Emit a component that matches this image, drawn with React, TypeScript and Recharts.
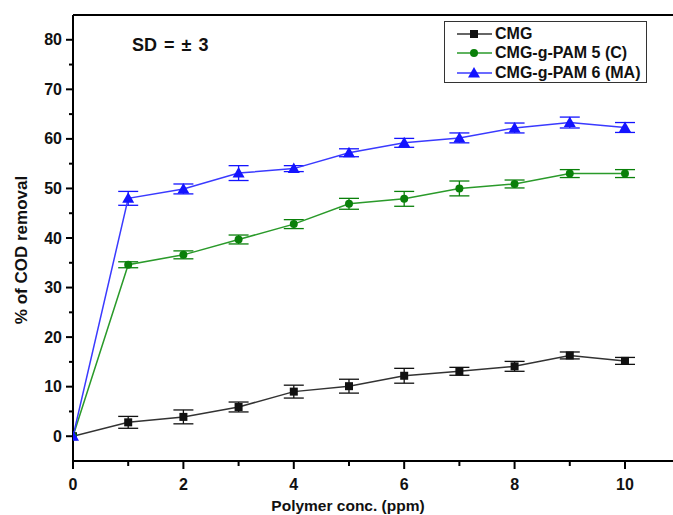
import {
  ErrorBar,
  Legend,
  Line,
  LineChart,
  ReferenceLine,
  XAxis,
  YAxis,
} from "recharts";

const conc = [0, 1, 2, 3, 4, 5, 6, 7, 8, 9, 10];
const cmg = [0, 2.8, 3.9, 5.9, 9.0, 10.1, 12.2, 13.1, 14.1, 16.3, 15.2];
const cmgErr = [0, 1.2, 1.4, 1.0, 1.3, 1.4, 1.5, 0.8, 1.0, 0.7, 0.7];
const pam5 = [0, 34.6, 36.6, 39.7, 42.8, 46.9, 47.9, 50.0, 50.9, 53.0, 53.0];
const pam5Err = [0, 0.6, 0.8, 0.9, 0.9, 1.1, 1.5, 1.5, 0.8, 0.8, 0.8];
const pam6 = [0, 48.0, 49.9, 53.1, 54.0, 57.2, 59.2, 60.2, 62.2, 63.3, 62.3];
const pam6Err = [0, 1.4, 1.0, 1.5, 0.6, 0.8, 0.9, 1.0, 1.0, 1.1, 1.0];

const xTicks = [0, 1, 2, 3, 4, 5, 6, 7, 8, 9, 10];
const yTicks = [0, 5, 10, 15, 20, 25, 30, 35, 40, 45, 50, 55, 60, 65, 70, 75, 80];

const seriesNames = ["CMG", "CMG-g-PAM 5 (C)", "CMG-g-PAM 6 (MA)"];

const data = conc.map((x, i) => ({
  x,
  cmg: cmg[i],
  cmgErr: cmgErr[i],
  pam5: pam5[i],
  pam5Err: pam5Err[i],
  pam6: pam6[i],
  pam6Err: pam6Err[i],
}));

const FONT = "'Liberation Sans', Arial, sans-serif";
const BLACK = "#111";
const GREEN = "#0a800a";
const BLUE = "#1414ff";
const lineColors = ["#333", "#2a9a2a", "#3a3aff"];

const Square = ({ cx, cy, color }: any) => (
  <rect x={cx - 4} y={cy - 4} width={8} height={8} fill={color} />
);
const Circle = ({ cx, cy, color }: any) => (
  <circle cx={cx} cy={cy} r={4} fill={color} />
);
const Triangle = ({ cx, cy, color }: any) => (
  <polygon
    points={`${cx},${cy - 6} ${cx - 6},${cy + 4.5} ${cx + 6},${cy + 4.5}`}
    fill={color}
  />
);

const markers = [Square, Circle, Triangle];
const colors = [BLACK, GREEN, BLUE];

const YTick = ({ x, y, payload }: any) => {
  const major = payload.value % 10 === 0;
  return (
    <g>
      <line x1={x} x2={x - (major ? 7 : 4)} y1={y} y2={y} stroke="#000" strokeWidth={2} />
      {major && (
        <text
          x={x - 11}
          y={y + 5.5}
          textAnchor="end"
          fontFamily={FONT}
          fontWeight="bold"
          fontSize={16}
          fill="#111"
        >
          {payload.value}
        </text>
      )}
    </g>
  );
};

const XTick = ({ x, y, payload }: any) => {
  const major = payload.value % 2 === 0;
  return (
    <g>
      <line x1={x} x2={x} y1={y} y2={y + (major ? 8 : 5)} stroke="#000" strokeWidth={2} />
      {major && (
        <text
          x={x}
          y={y + 29}
          textAnchor="middle"
          fontFamily={FONT}
          fontWeight="bold"
          fontSize={16}
          fill="#111"
        >
          {payload.value}
        </text>
      )}
    </g>
  );
};

const LegendBox = () => (
  <div
    style={{
      border: "1.5px solid #333",
      width: 203,
      height: 62,
      boxSizing: "border-box",
      paddingTop: 2,
      fontFamily: FONT,
      fontWeight: "bold",
      fontSize: 16,
      color: "#111",
      background: "#fff",
    }}
  >
    {seriesNames.map((name, i) => {
      const Marker = markers[i];
      return (
        <div key={name} style={{ display: "flex", alignItems: "center", height: 19.5, whiteSpace: "nowrap" }}>
          <svg width={38} height={14} style={{ marginLeft: 11, flexShrink: 0 }}>
            <line x1={1} x2={36} y1={7} y2={7} stroke={lineColors[i]} strokeWidth={1.5} />
            <Marker cx={18} cy={7} color={colors[i]} />
          </svg>
          <span style={{ marginLeft: 1 }}>{name}</span>
        </div>
      );
    })}
  </div>
);

export default function App() {
  const keys = ["cmg", "pam5", "pam6"];
  return (
    <div style={{ position: "absolute", left: 0, top: 0, width: 673, height: 515, background: "#fff" }}>
      <LineChart
        width={673}
        height={515}
        data={data}
        margin={{ top: 15, right: 0, left: 0, bottom: 0 }}
      >
        <XAxis
          dataKey="x"
          type="number"
          domain={[0, 10.87]}
          ticks={xTicks}
          allowDataOverflow
          height={54}
          tickSize={0}
          tickMargin={0}
          tickLine={false}
          stroke="#000"
          strokeWidth={2}
          tick={<XTick />}
          label={{
            content: ({ viewBox }: any) => (
              <text
                x={348}
                y={viewBox.y + 50}
                textAnchor="middle"
                fontFamily={FONT}
                fontWeight="bold"
                fontSize={15.5}
                fill="#111"
              >
                Polymer conc. (ppm)
              </text>
            ),
          }}
        />
        <YAxis
          type="number"
          domain={[-5, 85]}
          ticks={yTicks}
          allowDataOverflow
          width={73}
          tickSize={0}
          tickMargin={0}
          tickLine={false}
          stroke="#000"
          strokeWidth={2}
          tick={<YTick />}
          label={{
            content: () => (
              <text
                x={27}
                y={250}
                transform="rotate(-90 27 250)"
                textAnchor="middle"
                fontFamily={FONT}
                fontWeight="bold"
                fontSize={17}
                fill="#111"
              >
                % of COD removal
              </text>
            ),
          }}
        />
        <ReferenceLine y={85} stroke="#000" strokeWidth={2} />
        <Legend
          layout="vertical"
          align="center"
          verticalAlign="middle"
          content={<LegendBox />}
          wrapperStyle={{ left: 444, top: 21, width: 203, height: 62 }}
        />
        {keys.map((k, i) => {
          const Marker = markers[i];
          return (
            <Line
              key={k}
              dataKey={k}
              name={seriesNames[i]}
              stroke={lineColors[i]}
              strokeWidth={1.5}
              isAnimationActive={false}
              dot={(p: any) => <Marker key={`${k}-${p.index}`} cx={p.cx} cy={p.cy} color={colors[i]} />}
              activeDot={false}
            >
              <ErrorBar dataKey={`${k}Err`} direction="y" width={10} stroke={colors[i]} strokeWidth={1.3} />
            </Line>
          );
        })}
      </LineChart>
      <div
        style={{
          position: "absolute",
          left: 132,
          top: 35,
          fontFamily: FONT,
          fontWeight: "bold",
          fontSize: 18,
          wordSpacing: 2,
          color: "#111",
          whiteSpace: "pre",
        }}
      >
        SD = ± 3
      </div>
    </div>
  );
}
